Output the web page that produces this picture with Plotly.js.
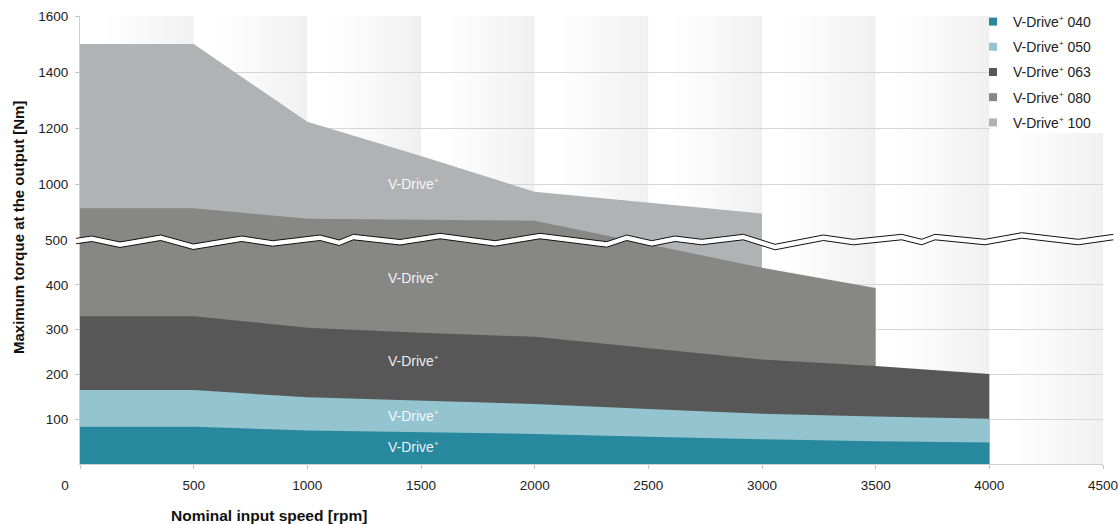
<!DOCTYPE html>
<html>
<head>
<meta charset="utf-8">
<script src="https://cdn.plot.ly/plotly-3.0.1.min.js"></script>
<style>
  html, body { margin: 0; padding: 0; background: #ffffff; }
  #chart { width: 1120px; height: 524px; }
</style>
</head>
<body>
<div id="chart"></div>
<script>
// ---------------- data ----------------
const PLUS = '<sup><span style="font-size:8px">+</span></sup>';
const seriesNames = ['V-Drive' + PLUS + ' 040', 'V-Drive' + PLUS + ' 050', 'V-Drive' + PLUS + ' 063', 'V-Drive' + PLUS + ' 080', 'V-Drive' + PLUS + ' 100'];
const rpm = [0, 500, 1000, 1500, 2000, 2500, 3000, 3500, 4000];
const torque040 = [83, 83, 75, 71, 67, 61, 55, 51, 48];
const torque050 = [165, 165, 149, 142, 134, 123, 112, 106, 101];
const torque063 = [330, 330, 304, 293, 284, 259, 233, 219, 201];
const rpm080 = [0, 500, 1000, 1500, 2000, 3000, 3500];
const torque080 = [913, 913, 876, 872, 869, 438, 393];
const rpm100 = [0, 500, 1000, 1500, 2000, 2500, 3000];
const torque100 = [1500, 1500, 1222, 1100, 972, 934, 895];

const xTickVals = [0, 500, 1000, 1500, 2000, 2500, 3000, 3500, 4000, 4500];
const yTickVals = [100, 200, 300, 400, 1000, 1200, 1400, 1600];
const breakLabel = 500;
const areaLabel = 'V-Drive' + PLUS;
const areaLabelRpm = 1465;
const areaLabelTorque = [39, 107, 231, 415, 1000];

// ---------------- styles ----------------
const colors = ['#28889e', '#93c4cf', '#575757', '#878786', '#b1b2b4'];
const FONT = 'Liberation Sans, Arial, Helvetica, sans-serif';
const TXT = '#222222';

// broken axis: 0-500 linear, then 800-1600 compressed above the break
const BREAK_LO = 500, BREAK_HI = 800, UPPER_SCALE = 0.625;
function tf(v) { return v <= BREAK_LO ? v : BREAK_LO + (v - BREAK_HI) * UPPER_SCALE; }

// plot area geometry (pixels)
const W = 1120, H = 524, ML = 80, MR = 17, MT = 16, MB = 60;
const PW = W - ML - MR, PH = H - MT - MB;
function px(x) { return (x - ML) / PW; }
function py(y) { return (H - MB - y) / PH; }

// ---------------- traces ----------------
const drawOrder = [
  [rpm100, torque100, 4],
  [rpm080, torque080, 3],
  [rpm, torque063, 2],
  [rpm, torque050, 1],
  [rpm, torque040, 0]
];
const traces = drawOrder.map(([xs, ys, i]) => ({
  type: 'scatter', mode: 'lines', x: xs, y: ys.map(tf),
  fill: 'tozeroy', fillcolor: colors[i],
  line: { width: 0, color: colors[i] },
  showlegend: false, hoverinfo: 'skip'
}));
// legend entries with square swatches
seriesNames.forEach((n, i) => {
  traces.push({
    type: 'scatter', mode: 'markers', x: [null], y: [null], name: n,
    legendgroup: 'g' + i,
    marker: { symbol: 'square', size: 8, color: colors[i] },
    hoverinfo: 'skip'
  });
});

// ---------------- background column gradients ----------------
const nCols = (xTickVals[xTickVals.length - 1] - xTickVals[0]) / 500;
let svg = '<svg xmlns="http://www.w3.org/2000/svg" width="' + nCols * 100 + '" height="100" viewBox="0 0 ' + nCols * 100 + ' 100" preserveAspectRatio="none">' +
  '<defs><linearGradient id="g" x1="0" y1="0" x2="1" y2="0">' +
  '<stop offset="0" stop-color="#ffffff"/><stop offset="0.2" stop-color="#ffffff"/>' +
  '<stop offset="0.97" stop-color="#f1f1f1"/><stop offset="1" stop-color="#efefef"/></linearGradient></defs>';
for (let c = 0; c < nCols; c++) svg += '<rect x="' + c * 100 + '" y="0" width="100" height="100" fill="url(#g)"/>';
svg += '</svg>';

// ---------------- axis break zigzag (decoration, pixel coords) ----------------
const zig = [[76,238.3],[91.7,236],[120,242],[160.7,235],[193.3,244],[241.7,236],[272.7,240.7],[320,235],[339.3,240],[353.3,234.3],[400,239.5],[440,233.3],[495,240.7],[540,233.3],[606.7,241.7],[626.7,235],[651.7,240.7],[675,236],[701.7,239.3],[743.3,234.3],[775,244.3],[823.3,235],[853.3,239.3],[901.7,234.3],[921.7,239.3],[935,234.3],[985,239.3],[1021.7,232.7],[1078.3,239.3],[1113.3,234.3]];
const GAP = 5.5;
const upper = zig.map(([x, y]) => [px(x), py(y)]);
const lower = zig.map(([x, y]) => [px(x), py(y + GAP)]);
function pathOf(pts) { return pts.map((p, i) => (i ? 'L' : 'M') + p[0].toFixed(5) + ',' + p[1].toFixed(5)).join(' '); }
const bandPath = pathOf(upper.concat(lower.slice().reverse())) + ' Z';

const shapes = [
  { type: 'rect', xref: 'paper', yref: 'paper', x0: px(990), x1: px(1112), y0: py(133), y1: py(0),
    fillcolor: '#ffffff', line: { width: 0 }, layer: 'above' },
  { type: 'path', xref: 'paper', yref: 'paper', path: bandPath, fillcolor: '#ffffff', line: { width: 0 }, layer: 'above' },
  { type: 'path', xref: 'paper', yref: 'paper', path: pathOf(upper), line: { color: '#111111', width: 1 }, layer: 'above' },
  { type: 'path', xref: 'paper', yref: 'paper', path: pathOf(lower), line: { color: '#111111', width: 1 }, layer: 'above' }
];

// ---------------- annotations ----------------
const annotations = areaLabelTorque.map(t => ({
  x: areaLabelRpm, y: tf(t), xref: 'x', yref: 'y', text: areaLabel, showarrow: false,
  font: { family: FONT, size: 14, color: 'rgba(255,255,255,0.92)' }
}));
annotations.push({
  x: 0, y: tf(breakLabel), xref: 'paper', yref: 'y', xanchor: 'right', yanchor: 'middle', xshift: -10,
  text: String(breakLabel), showarrow: false, font: { family: FONT, size: 13.5, color: TXT }
});
annotations.push({
  x: px(269), y: py(515), xref: 'paper', yref: 'paper', xanchor: 'center', yanchor: 'middle',
  text: '<b>Nominal input speed [rpm]</b>', showarrow: false, font: { family: FONT, size: 15.5, color: '#111' }
});
annotations.push({
  x: px(18), y: py(228), xref: 'paper', yref: 'paper', xanchor: 'center', yanchor: 'middle', textangle: -90,
  text: '<b>Maximum torque at the output [Nm]</b>', showarrow: false, font: { family: FONT, size: 15, color: '#111' }
});

const xTickText = xTickVals.map(v => v === 0 ? '0' + '\u00a0'.repeat(8) : String(v));

const layout = {
  width: W, height: H,
  margin: { l: ML, r: MR, t: MT, b: MB, pad: 0, autoexpand: false },
  paper_bgcolor: '#ffffff', plot_bgcolor: 'rgba(0,0,0,0)',
  font: { family: FONT, size: 13.5, color: TXT },
  showlegend: true,
  legend: {
    x: px(973), y: py(6), xanchor: 'left', yanchor: 'top',
    bgcolor: 'rgba(0,0,0,0)', borderwidth: 0,
    font: { family: FONT, size: 14, color: TXT },
    traceorder: 'grouped', tracegroupgap: 4
  },
  xaxis: {
    range: [0, 4500], tickvals: xTickVals, ticktext: xTickText,
    showgrid: false, zeroline: false,
    showline: true, linecolor: '#cfcfcf', linewidth: 1,
    ticks: 'outside', ticklen: 4, tickcolor: '#c4c4c4', ticklabelstandoff: 5,
    tickfont: { family: FONT, size: 13.5, color: TXT }, fixedrange: true, automargin: false
  },
  yaxis: {
    range: [0, tf(1600)], tickvals: yTickVals.map(tf), ticktext: yTickVals.map(String),
    showgrid: true, gridcolor: '#d6d6d6', gridwidth: 1, zeroline: false,
    showline: true, linecolor: '#cfcfcf', linewidth: 1,
    ticks: 'outside', ticklen: 4, tickcolor: '#c4c4c4', ticklabelstandoff: 4,
    tickfont: { family: FONT, size: 13.5, color: TXT }, fixedrange: true, automargin: false
  },
  images: [{
    source: 'data:image/svg+xml;charset=utf-8,' + encodeURIComponent(svg),
    xref: 'paper', yref: 'paper', x: 0, y: 1, sizex: 1, sizey: 1,
    xanchor: 'left', yanchor: 'top', sizing: 'stretch', layer: 'below'
  }],
  shapes: shapes,
  annotations: annotations
};

Plotly.newPlot('chart', traces, layout, { staticPlot: true, displayModeBar: false });
</script>
</body>
</html>
